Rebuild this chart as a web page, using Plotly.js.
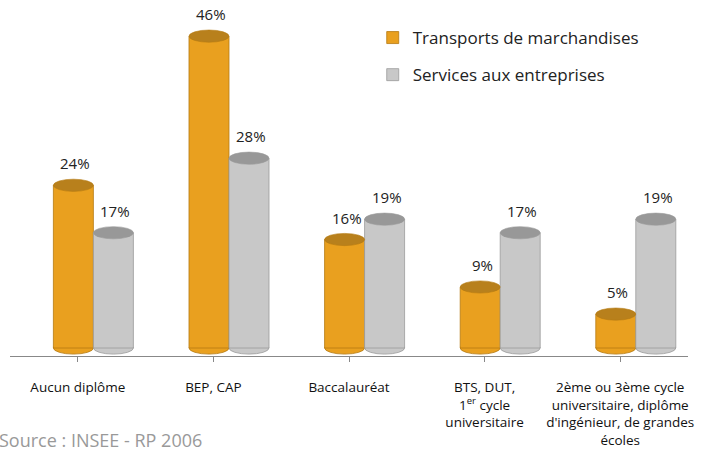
<!DOCTYPE html>
<html>
<head>
<meta charset="utf-8">
<script src="https://cdn.plot.ly/plotly-3.0.1.min.js"></script>
<style>html,body{margin:0;padding:0;background:#fff;}#chart{width:709px;height:449px;}</style>
</head>
<body>
<div id="chart"></div>
<script>
var categories = ["Aucun diplôme", "BEP, CAP", "Baccalauréat", "BTS, DUT,<br>1<sup>er</sup> cycle<br>universitaire", "2ème ou 3ème cycle<br>universitaire, diplôme<br>d'ingénieur, de grandes<br>écoles"];
var seriesNames = ["Transports de marchandises", "Services aux entreprises"];
var transports = [24, 46, 16, 9, 5];
var services = [17, 28, 19, 17, 19];
var sourceText = "Source : INSEE - RP 2006";

var FONT = "'Open Sans', 'Noto Sans', sans-serif";
var faceColors = ["#E9A01F", "#C8C8C8"];
var lineColors = ["#B57A12", "#9A9A9A"];
var topColors = ["#B8801C", "#989898"];
var offsets = [-0.18, 0.115];
var barW = 0.295;
var ellH = 0.9;

var idx = categories.map(function(c, i){ return i; });
var seriesVals = [transports, services];

var traces = seriesVals.map(function(vals, s){
  return {
    type: "bar",
    name: seriesNames[s],
    x: idx,
    y: vals,
    offset: offsets[s],
    width: barW,
    legendgroup: "g" + s,
    marker: {color: faceColors[s], line: {color: lineColors[s], width: 0.8}},
    hoverinfo: "skip"
  };
});

var shapes = [];
var annotations = [];
seriesVals.forEach(function(vals, s){
  vals.forEach(function(v, i){
    var x0 = i + offsets[s], x1 = x0 + barW;
    shapes.push({type: "circle", xref: "x", yref: "y", x0: x0, x1: x1, y0: -ellH, y1: ellH,
      fillcolor: faceColors[s], line: {color: lineColors[s], width: 0.8}, layer: "below"});
    shapes.push({type: "circle", xref: "x", yref: "y", x0: x0, x1: x1, y0: v - ellH, y1: v + ellH,
      fillcolor: topColors[s], line: {color: lineColors[s], width: 0.6}, layer: "above"});
    annotations.push({x: (x0 + x1) / 2, y: v, xref: "x", yref: "y", text: v + "%",
      showarrow: false, yanchor: "bottom", yshift: 10, xshift: 2,
      font: {family: FONT, size: 15, color: "#222"}});
  });
});

annotations.push({xref: "paper", yref: "paper", x: -0.019, y: -0.25, xanchor: "left", yanchor: "middle",
  text: sourceText, showarrow: false,
  font: {family: FONT, size: 18, color: "#999"}});

var layout = {
  width: 709, height: 449,
  margin: {l: 10, r: 21, t: 20, b: 93, autoexpand: false},
  paper_bgcolor: "#fff", plot_bgcolor: "#fff",
  barmode: "overlay",
  showlegend: true,
  legend: {xref: "paper", yref: "paper", x: 0.535, y: 1.0, xanchor: "left", yanchor: "top",
    font: {family: FONT, size: 17, color: "#222"}, traceorder: "grouped", tracegroupgap: 12,
    bgcolor: "rgba(0,0,0,0)"},
  xaxis: {
    range: [-0.5, 4.5],
    tickmode: "array", tickvals: idx, ticktext: categories,
    tickson: "boundaries", ticks: "outside", ticklen: 5, tickcolor: "#888",
    showline: true, linecolor: "#888", linewidth: 1,
    showgrid: false, zeroline: false, automargin: false, tickangle: 0,
    ticklabelstandoff: 14,
    tickfont: {family: FONT, size: 13.5, color: "#111"}
  },
  yaxis: {
    range: [-1.18, 48.38],
    visible: false, showgrid: false, zeroline: false, automargin: false
  },
  shapes: shapes,
  annotations: annotations,
  font: {family: FONT}
};

Plotly.newPlot("chart", traces, layout, {displayModeBar: false, staticPlot: true});
</script>
</body>
</html>
